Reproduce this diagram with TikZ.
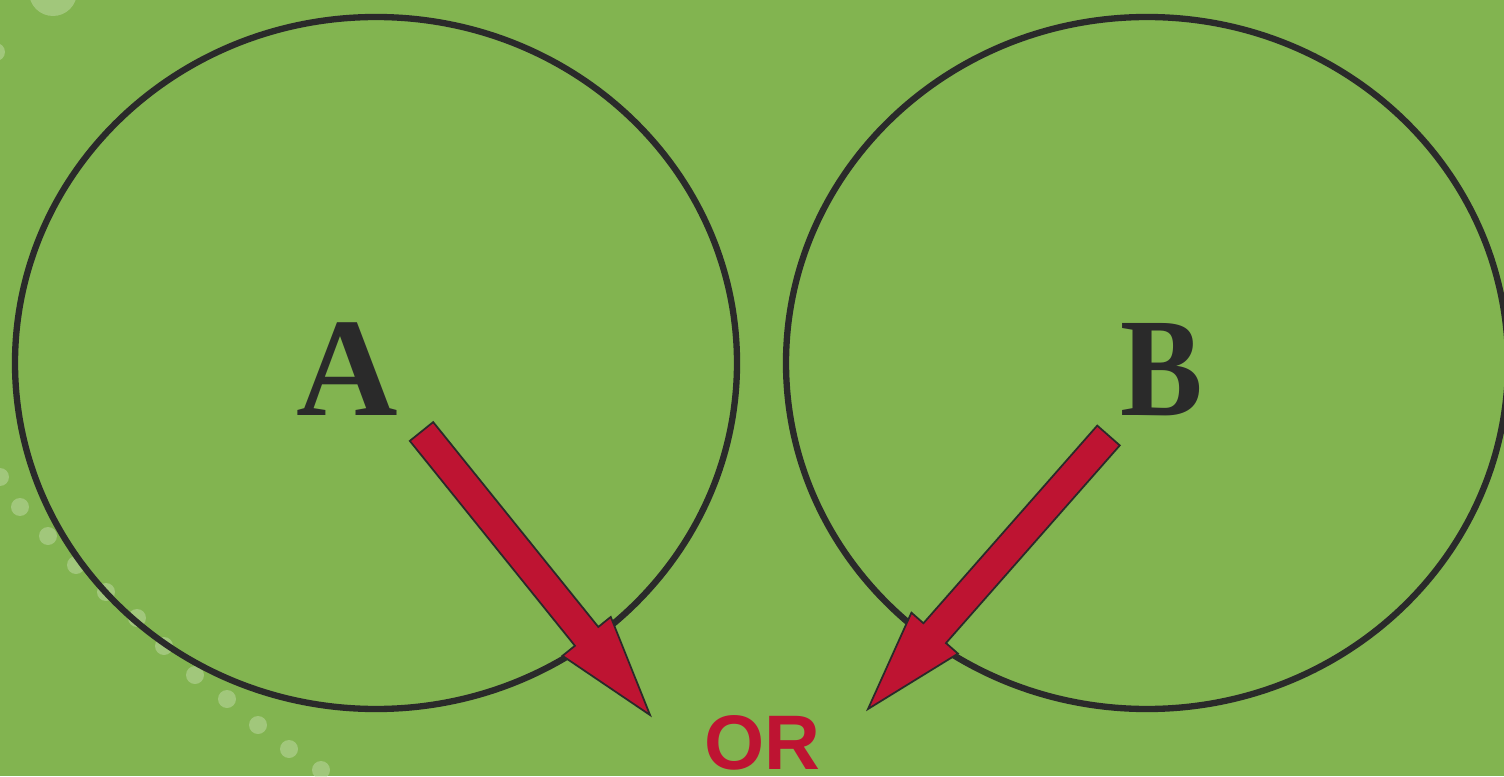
\documentclass[tikz,border=0pt]{standalone}
\usepackage{fontspec}
\setmainfont{Liberation Serif}
\newfontfamily\orfont{Liberation Sans}
\usepackage{tikz}
\usetikzlibrary{positioning,shapes.geometric,calc}
\definecolor{field}{HTML}{82B450}
\definecolor{outline}{HTML}{2A2A2A}
\definecolor{pointer}{HTML}{BE1432}
\definecolor{speck}{HTML}{C8E0B0}

\begin{document}
\begin{tikzpicture}[
      set/.style={draw=outline, line width=1.8pt, ellipse, inner sep=0pt,
                  minimum width=7.22cm, minimum height=6.92cm},
      letter/.style={font=\fontsize{40}{40}\selectfont\bfseries, text=outline,
                     anchor=base, inner sep=0pt},
      word/.style={font=\orfont\fontsize{22}{22}\selectfont\bfseries, text=pointer,
                   anchor=base, inner sep=0pt},
      blockarrow/.style={fill=pointer, draw=outline, line width=0.5pt, line join=miter},
      speckle/.style={fill=speck, opacity=0.45}
    ]
      % Background
      \fill[field] (0, 0) rectangle (15.04, 7.76);
      \useasboundingbox (0, 0) rectangle (15.04, 7.76);

      % Decorative dots
      \fill[speckle] (0.53, 7.84) circle (0.24);
      \fill[speckle] (-0.04, 7.24) circle (0.09);
      \foreach \x/\y in {0/2.99, 0.20/2.69, 0.48/2.40, 0.76/2.11, 1.06/1.84, 1.37/1.58,
                         1.64/1.30, 1.95/1.01, 2.27/0.77, 2.58/0.51, 2.89/0.27, 3.21/0.06}
        \fill[speckle] (\x, \y) circle (0.09);

      % Sets
      \node[set] (setA) at (3.76, 4.13) {};
      \node[set] (setB) at (11.47, 4.13) {};
      \node[letter] (labelA) at (3.47, 3.61) {A};
      \node[letter, xscale=0.88] (labelB) at (11.615, 3.61) {B};
      \node[word] (union) at (7.62, 0.07) {OR};

      % Arrows
      \coordinate (tailA) at (4.215, 3.445);
      \coordinate (tipA) at (6.50, 0.61);
      \coordinate (tailB) at (11.085, 3.405);
      \coordinate (tipB) at (8.68, 0.67);
      \coordinate (headA) at ($(tipA)!1.01cm!(tailA)$);
      \coordinate (headB) at ($(tipB)!1.01cm!(tailB)$);

      \foreach \t/\h/\p in {tailA/headA/tipA, tailB/headB/tipB}
        \draw[blockarrow] ($(\t)!0.15cm!90:(\p)$) -- ($(\h)!0.15cm!90:(\p)$)
          -- ($(\h)!0.31cm!90:(\p)$) -- (\p) -- ($(\h)!0.31cm!-90:(\p)$)
          -- ($(\h)!0.15cm!-90:(\p)$) -- ($(\t)!0.15cm!-90:(\p)$) -- cycle;
    \end{tikzpicture}
\end{document}
